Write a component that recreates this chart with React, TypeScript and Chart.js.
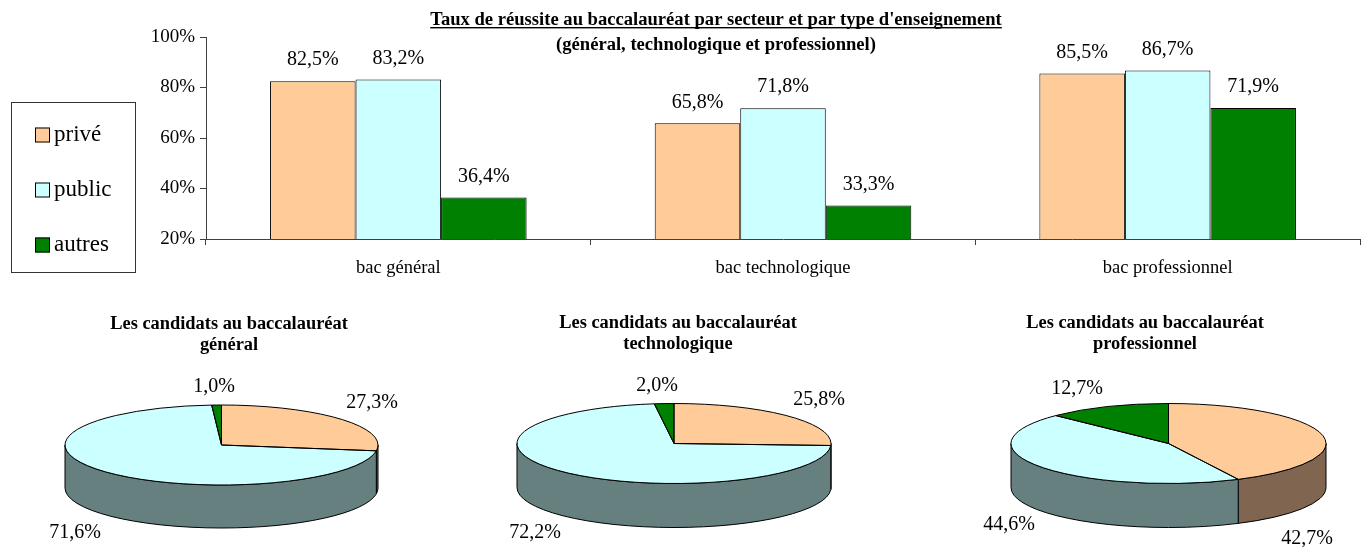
import React, { useEffect, useRef } from "react";
import { Chart, registerables } from "chart.js";

Chart.register(...registerables);

// ---------- data ----------
const categories = ["bac général", "bac technologique", "bac professionnel"];
const seriesNames = ["privé", "public", "autres"];
const priveRates = [82.5, 65.8, 85.5];
const publicRates = [83.2, 71.8, 86.7];
const autresRates = [36.4, 33.3, 71.9];
const yMin = 20;
const yMax = 100;
const yStep = 20;

const chartTitle = [
  "Taux de réussite au baccalauréat par secteur et par type d'enseignement",
  "(général, technologique et professionnel)",
];

const pieGeneral = [27.3, 71.6, 1.0];
const pieTechno = [25.8, 72.2, 2.0];
const piePro = [42.7, 44.6, 12.7];
const pieTitleGeneral = ["Les candidats au baccalauréat", "général"];
const pieTitleTechno = ["Les candidats au baccalauréat", "technologique"];
const pieTitlePro = ["Les candidats au baccalauréat", "professionnel"];

// ---------- style ----------
const FONT = "'Liberation Serif', 'Times New Roman', serif";
const COLORS = ["#FFCC99", "#CCFFFF", "#008000"];
const SIDE_COLORS = ["#806650", "#668080", "#004000"];
const AXIS = "#404040";

const fmt = (v: number) => v.toFixed(1).replace(".", ",") + "%";

// ---------- bar chart ----------
function BarChart() {
  const ref = useRef<HTMLCanvasElement | null>(null);
  useEffect(() => {
    const canvas = ref.current!;
    const barLabels = {
      id: "barLabels",
      afterDatasetsDraw(chart: any) {
        const ctx = chart.ctx;
        ctx.save();
        ctx.font = `20px ${FONT}`;
        ctx.fillStyle = "#000";
        ctx.textAlign = "center";
        ctx.textBaseline = "middle";
        chart.data.datasets.forEach((ds: any, di: number) => {
          const meta = chart.getDatasetMeta(di);
          meta.data.forEach((bar: any, i: number) => {
            ctx.fillText(fmt(ds.data[i]), bar.x, bar.y - 21);
          });
        });
        ctx.restore();
      },
    };
    const titleAndLegend = {
      id: "titleAndLegend",
      afterDraw(chart: any) {
        const ctx = chart.ctx;
        ctx.save();
        // title
        ctx.fillStyle = "#000";
        ctx.textAlign = "center";
        ctx.textBaseline = "alphabetic";
        ctx.font = `bold 18.6px ${FONT}`;
        const tx = 716;
        ctx.fillText(chartTitle[0], tx, 25);
        const w = ctx.measureText(chartTitle[0]).width;
        ctx.fillRect(tx - w / 2, 27, w, 1.4);
        ctx.fillText(chartTitle[1], tx, 50);
        // legend
        ctx.strokeStyle = "#333";
        ctx.lineWidth = 1;
        ctx.strokeRect(11.5, 102.5, 124, 170);
        ctx.font = `23px ${FONT}`;
        ctx.textAlign = "left";
        ctx.textBaseline = "middle";
        chart.data.datasets.forEach((ds: any, i: number) => {
          const cy = 135 + i * 55;
          ctx.fillStyle = ds.backgroundColor;
          ctx.fillRect(35, cy - 7.5, 15, 15);
          ctx.strokeStyle = "#000";
          ctx.strokeRect(35.5, cy - 7, 14, 14);
          ctx.fillStyle = "#000";
          ctx.fillText(ds.label, 54, cy);
        });
        ctx.restore();
      },
    };
    const chart = new Chart(canvas, {
      type: "bar",
      data: {
        labels: categories,
        datasets: [priveRates, publicRates, autresRates].map((d, i) => ({
          label: seriesNames[i],
          data: d,
          backgroundColor: COLORS[i],
          borderColor: "#000",
          borderWidth: 1,
          categoryPercentage: 0.667,
          barPercentage: 1,
        })),
      },
      options: {
        animation: false,
        responsive: false,
        events: [],
        layout: { padding: { left: 130, right: 9, top: 37, bottom: 0 } },
        plugins: {
          legend: { display: false },
          tooltip: { enabled: false },
          title: { display: false },
        },
        scales: {
          x: {
            grid: {
              display: true,
              drawOnChartArea: false,
              drawTicks: true,
              tickLength: 6,
              offset: true,
              color: AXIS,
            },
            border: { color: AXIS, width: 1 },
            ticks: { color: "#000", font: { family: FONT, size: 18.5 }, padding: 12 },
            afterFit: (s: any) => {
              s.height = 46;
            },
          },
          y: {
            min: yMin,
            max: yMax,
            ticks: {
              stepSize: yStep,
              callback: (v: any) => v + "%",
              color: "#000",
              font: { family: FONT, size: 19 },
              padding: 5,
            },
            grid: { drawOnChartArea: false, tickLength: 6, color: AXIS },
            border: { color: AXIS, width: 1 },
            afterFit: (s: any) => {
              s.width = 76;
            },
          },
        },
      } as any,
      plugins: [barLabels, titleAndLegend],
    });
    return () => chart.destroy();
  }, []);
  return (
    <canvas
      ref={ref}
      width={1369}
      height={285}
      style={{ position: "absolute", left: 0, top: 0, width: 1369, height: 285 }}
    />
  );
}

// ---------- 3D pie ----------
type PieLayout = {
  left: number;
  cx: number;
  cy: number;
  rx: number;
  ry: number;
  depth: number;
  titleX: number;
  titleY: [number, number];
  labelPos: [number, number][];
};

const PIE_LAYOUTS: PieLayout[] = [
  { left: 0, cx: 221.5, cy: 155, rx: 156.5, ry: 40, depth: 43, titleX: 229, titleY: [39, 60], labelPos: [[372, 113], [75, 243], [214, 97]] },
  { left: 456, cx: 218, cy: 153.5, rx: 157, ry: 40, depth: 44, titleX: 222, titleY: [38, 59], labelPos: [[363, 110], [79, 243], [201, 96]] },
  { left: 912, cx: 256.5, cy: 153.5, rx: 157.5, ry: 40, depth: 44, titleX: 233, titleY: [38, 59], labelPos: [[395, 249], [97, 235], [165, 99]] },
];

function Pie3D({ values, title, layout }: { values: number[]; title: string[]; layout: PieLayout }) {
  const ref = useRef<HTMLCanvasElement | null>(null);
  useEffect(() => {
    const canvas = ref.current!;
    const { cx, cy, rx, ry, depth } = layout;
    const getAngles = (arc: any) => {
      const p = arc.getProps(["startAngle", "endAngle"], true);
      return [p.startAngle as number, p.endAngle as number];
    };
    const pie3d = {
      id: "pie3d",
      beforeDatasetsDraw(chart: any) {
        const ctx = chart.ctx;
        const arcs = chart.getDatasetMeta(0).data as any[];
        ctx.save();
        arcs.forEach((arc, i) => {
          const [s, e] = getAngles(arc);
          const a1 = Math.max(s, 0);
          const a2 = Math.min(e, Math.PI);
          if (a2 <= a1) return;
          ctx.beginPath();
          ctx.ellipse(cx, cy, rx, ry, 0, a1, a2, false);
          ctx.ellipse(cx, cy + depth, rx, ry, 0, a2, a1, true);
          ctx.closePath();
          ctx.fillStyle = SIDE_COLORS[i];
          ctx.fill();
          ctx.lineWidth = 1;
          ctx.strokeStyle = "#000";
          ctx.stroke();
        });
        const a0 = arcs[0];
        const r = a0.outerRadius;
        ctx.translate(cx, cy);
        ctx.scale(rx / r, ry / r);
        ctx.translate(-a0.x, -a0.y);
      },
      afterDatasetsDraw(chart: any) {
        const ctx = chart.ctx;
        ctx.restore();
        const arcs = chart.getDatasetMeta(0).data as any[];
        ctx.save();
        ctx.lineWidth = 1;
        ctx.strokeStyle = "#000";
        arcs.forEach((arc) => {
          const [s, e] = getAngles(arc);
          ctx.beginPath();
          ctx.moveTo(cx, cy);
          ctx.ellipse(cx, cy, rx, ry, 0, s, e, false);
          ctx.closePath();
          ctx.stroke();
        });
        // labels
        ctx.fillStyle = "#000";
        ctx.font = `20px ${FONT}`;
        ctx.textAlign = "center";
        ctx.textBaseline = "middle";
        chart.data.datasets[0].data.forEach((v: number, i: number) => {
          const [lx, ly] = layout.labelPos[i];
          ctx.fillText(fmt(v), lx, ly);
        });
        // title
        ctx.font = `bold 18.4px ${FONT}`;
        ctx.textBaseline = "alphabetic";
        ctx.fillText(title[0], layout.titleX, layout.titleY[0]);
        ctx.fillText(title[1], layout.titleX, layout.titleY[1]);
        ctx.restore();
      },
    };
    const chart = new Chart(canvas, {
      type: "pie",
      data: {
        labels: seriesNames,
        datasets: [
          {
            data: values,
            backgroundColor: COLORS,
            borderWidth: 0,
          },
        ],
      },
      options: {
        animation: false,
        responsive: false,
        events: [],
        layout: { padding: 0 },
        plugins: {
          legend: { display: false },
          tooltip: { enabled: false },
          title: { display: false },
        },
      } as any,
      plugins: [pie3d],
    });
    return () => chart.destroy();
  }, []);
  return (
    <canvas
      ref={ref}
      width={456}
      height={257}
      style={{ position: "absolute", left: layout.left, top: 290, width: 456, height: 257 }}
    />
  );
}

export default function App() {
  return (
    <div style={{ position: "absolute", left: 0, top: 0, width: 1369, height: 547, background: "#fff" }}>
      <BarChart />
      <Pie3D values={pieGeneral} title={pieTitleGeneral} layout={PIE_LAYOUTS[0]} />
      <Pie3D values={pieTechno} title={pieTitleTechno} layout={PIE_LAYOUTS[1]} />
      <Pie3D values={piePro} title={pieTitlePro} layout={PIE_LAYOUTS[2]} />
    </div>
  );
}
